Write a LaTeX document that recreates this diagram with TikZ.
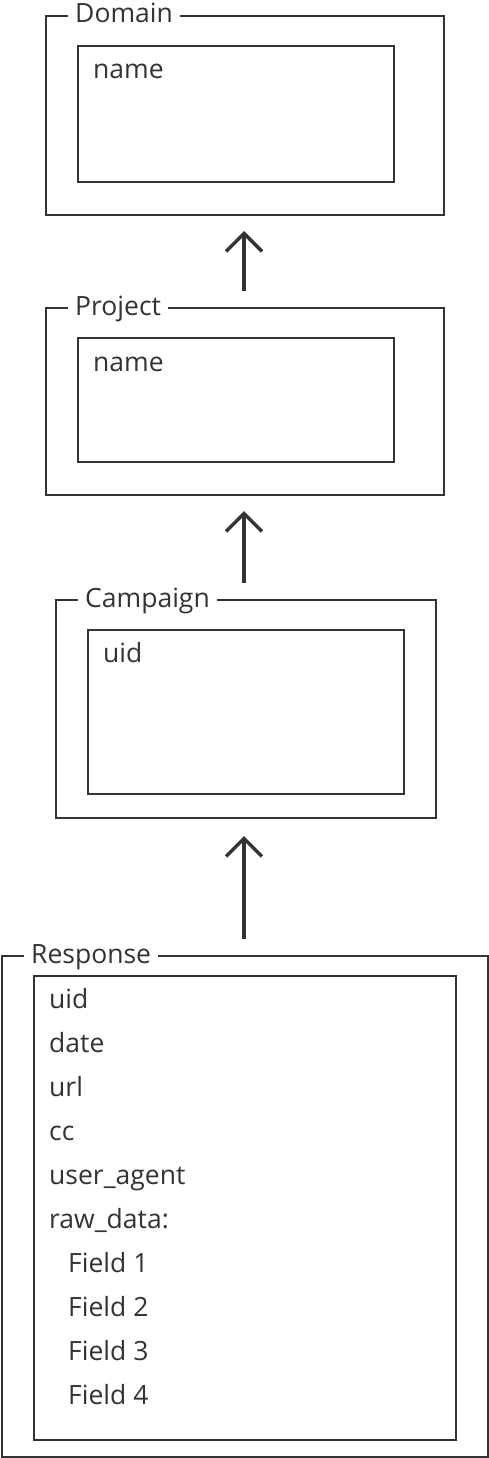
\documentclass[tikz,border=0pt]{standalone}
\usepackage{fontspec}
\setmainfont{Open Sans}
\usetikzlibrary{arrows.meta}
\definecolor{ink}{HTML}{333333}
\tikzset{
  box/.style={draw=ink, line width=2pt, fill=none, inner sep=0pt, anchor=north west},
  lbl/.style={fill=white, text=ink, inner xsep=7pt, inner ysep=0pt, anchor=base west, font=\fontsize{26.5}{30}\selectfont},
  txt/.style={text=ink, inner sep=0pt, anchor=base west, font=\fontsize{26.5}{30}\selectfont},
  arr/.style={draw=ink, line width=3.5pt, -{Straight Barb[length=18pt,width=36pt,line cap=butt,line join=miter]}}
}
\begin{document}
\begin{tikzpicture}[x=1pt,y=-1pt]
\useasboundingbox (0,0) rectangle (488,1458);
% Domain
\node[box, minimum width=398pt, minimum height=199pt] (domain) at (45,15) {};
\node[box, minimum width=316pt, minimum height=136pt] (domainin) at (77,45) {};
\node[lbl] (domainlbl) at (68,23) {Domain};
\node[txt] (domainname) at (93,79) {name};
% Project
\node[box, minimum width=398pt, minimum height=187pt] (project) at (45,307) {};
\node[box, minimum width=316pt, minimum height=124pt] (projectin) at (77,337) {};
\node[lbl] (projectlbl) at (68,315) {Project};
\node[txt] (projectname) at (93,371) {name};
% Campaign
\node[box, minimum width=380pt, minimum height=218pt] (campaign) at (55,599) {};
\node[box, minimum width=316pt, minimum height=164pt] (campaignin) at (87,629) {};
\node[lbl] (campaignlbl) at (78,607) {Campaign};
\node[txt] (campaignuid) at (103,662) {uid};
% Response
\node[box, minimum width=486pt, minimum height=501pt] (response) at (1,955) {};
\node[box, minimum width=422pt, minimum height=464pt] (responsein) at (33,975) {};
\node[lbl] (responselbl) at (24,963) {Response};
\node[txt] (r1) at (49,1008) {uid};
\node[txt] (r2) at (49,1052) {date};
\node[txt] (r3) at (49,1096) {url};
\node[txt] (r4) at (49,1140) {cc};
\node[txt] (r5) at (49,1184) {user\_agent};
\node[txt] (r6) at (49,1228) {raw\_data:};
\node[txt] (r7) at (68,1272) {Field 1};
\node[txt] (r8) at (68,1316) {Field 2};
\node[txt] (r9) at (68,1360) {Field 3};
\node[txt] (r10) at (68,1404) {Field 4};
% arrows
\draw[arr, shorten <=16pt, shorten >=15pt] ([xshift=-1pt]project.north) -- ([xshift=-1pt]domain.south);
\draw[arr, shorten <=16pt, shorten >=15pt] ([xshift=-1pt]campaign.north -| project.north) -- ([xshift=-1pt]project.south);
\draw[arr, shorten <=16pt, shorten >=17pt] ([xshift=-1pt]response.north) -- ([xshift=-1pt]campaign.south -| response.north);
\end{tikzpicture}
\end{document}
